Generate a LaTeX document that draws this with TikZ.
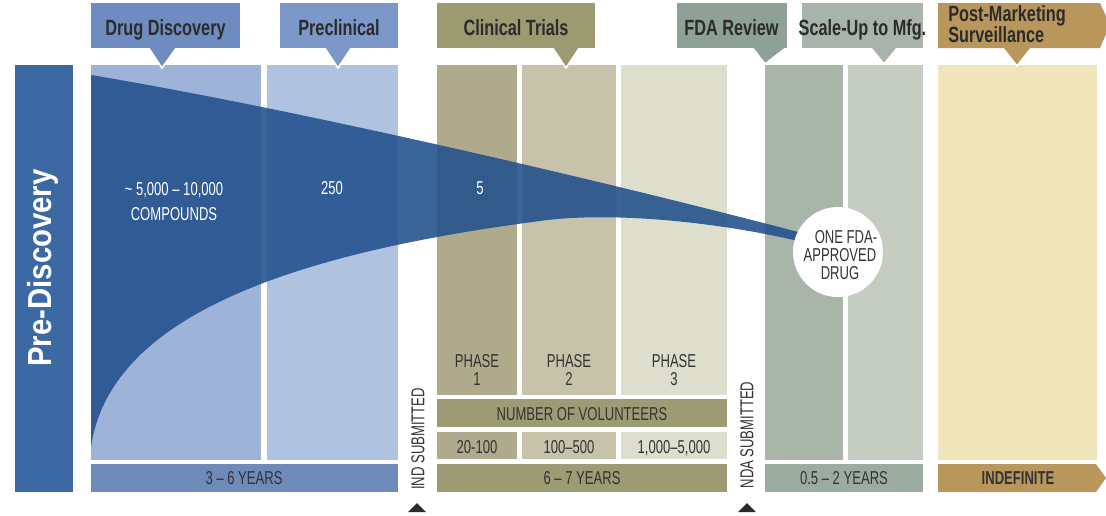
\documentclass[tikz,border=0pt]{standalone}
\usepackage{fontspec}
\setmainfont{Liberation Sans}
\newfontfamily\hdfont{Liberation Sans}[FakeStretch=0.74,Ligatures=TeX]
\newfontfamily\bdfont{Liberation Sans}[FakeStretch=0.7,Ligatures=TeX]
\newfontfamily\pdfont{Liberation Sans}[FakeStretch=0.88,Ligatures=TeX]
\definecolor{cPre}{HTML}{3C69A3}
\definecolor{cDDtab}{HTML}{6E8CBF}
\definecolor{cPCtab}{HTML}{7C98C8}
\definecolor{cDDcol}{HTML}{9DB3D7}
\definecolor{cPCcol}{HTML}{AFC3E1}
\definecolor{cDDbar}{HTML}{6D8AB8}
\definecolor{cCTtab}{HTML}{9C9A70}
\definecolor{cP1}{HTML}{AEAA8B}
\definecolor{cP2}{HTML}{C7C2AA}
\definecolor{cP3}{HTML}{DEDECD}
\definecolor{cOlive}{HTML}{9D9B73}
\definecolor{cFDAtab}{HTML}{8EA197}
\definecolor{cFDAcol}{HTML}{A8B5A8}
\definecolor{cSUtab}{HTML}{A8B3A9}
\definecolor{cSUcol}{HTML}{C5CDC3}
\definecolor{cFDAbar}{HTML}{9CAB9F}
\definecolor{cPMtab}{HTML}{B9975C}
\definecolor{cPMcol}{HTML}{F0E4BB}
\definecolor{cFunnel}{HTML}{214F8C}
\definecolor{txtdark}{HTML}{2B2B2B}
\definecolor{txtbody}{HTML}{333333}
\begin{document}
\begin{tikzpicture}[x=0.75pt,y=-0.75pt,
  hdr/.style={font=\hdfont\bfseries\fontsize{16.5}{19}\selectfont,text=txtdark,inner sep=0pt,anchor=base},
  body/.style={font=\bdfont\fontsize{14}{15}\selectfont,text=txtbody,inner sep=0pt,anchor=base},
  wbody/.style={body,text=white},
  vbody/.style={font=\bdfont\fontsize{14}{15}\selectfont,text=txtbody,inner sep=0pt,anchor=center,rotate=90},
  ptr/.style={draw=white,line width=1.2pt,line join=miter}]
\useasboundingbox (0,0) rectangle (1106,515);
\fill[white] (0,0) rectangle (1106,515);
% columns and bars
\fill[cPre] (15,65) rectangle (73,492);
\fill[cDDcol] (91,65) rectangle (261,460);
\fill[cPCcol] (267,65) rectangle (398,460);
\fill[cDDbar] (91,464) rectangle (398,492);
\fill[cP1] (437,65) rectangle (517,395);
\fill[cP2] (522,65) rectangle (616,395);
\fill[cP3] (621,65) rectangle (727,395);
\fill[cOlive] (437,399) rectangle (727,427);
\fill[cP1] (437,432) rectangle (517,459);
\fill[cP2] (522,432) rectangle (616,459);
\fill[cP3] (621,432) rectangle (727,459);
\fill[cOlive] (437,464) rectangle (727,492);
\fill[cFDAcol] (765,65) rectangle (843,460);
\fill[cSUcol] (848,65) rectangle (923,460);
\fill[cFDAbar] (765,464) rectangle (923,492);
\fill[cPMcol] (938,65) rectangle (1097,460);
\fill[cPMtab] (938,464) -- (1096,464) -- (1106,478) -- (1096,492) -- (938,492) -- cycle;
% funnel
\fill[cFunnel,opacity=0.88] (91,75) .. controls (300,110) and (600,180) .. (802,233)
  -- (802,242) .. controls (720,222) and (610,211) .. (540,221)
  .. controls (255,258) and (108,330) .. (91,447) -- cycle;
% header tabs
\filldraw[fill=cDDtab,ptr] (148,47) -- (162,68) -- (177,47) -- cycle;
\fill[cDDtab] (91,3) rectangle (240,48);
\filldraw[fill=cPCtab,ptr] (324,47) -- (338,68) -- (352,47) -- cycle;
\fill[cPCtab] (280,3) rectangle (398,48);
\filldraw[fill=cCTtab,ptr] (552,47) -- (566,68) -- (580,47) -- cycle;
\fill[cCTtab] (437,3) rectangle (595,48);
\filldraw[fill=cFDAtab,ptr] (752,47) -- (765,64) -- (787,47) -- cycle;
\fill[cFDAtab] (677,3) rectangle (787,48);
\filldraw[fill=cSUtab,ptr] (870,47) -- (884,64) -- (898,47) -- cycle;
\fill[cSUtab] (802,3) rectangle (923,48);
\filldraw[fill=cPMtab,ptr] (1002,47) -- (1017,66) -- (1032,47) -- cycle;
\fill[cPMtab] (938,3) -- (1100,3) -- (1110,25) -- (1100,48) -- (938,48) -- cycle;
% header texts
\node[hdr] (hDD) at (165.5,35) {Drug Discovery};
\node[hdr] (hPC) at (339,35) {Preclinical};
\node[hdr] (hCT) at (516,35) {Clinical Trials};
\node[hdr] (hFDA) at (731.5,35) {FDA Review};
\node[hdr] (hSU) at (862.5,35) {Scale-Up to Mfg.};
\node[hdr,anchor=base west] (hPM1) at (948,21) {Post-Marketing};
\node[hdr,anchor=base west] (hPM2) at (948,42.5) {Surveillance};
% pre-discovery
\node[font=\pdfont\bfseries\fontsize{25}{27}\selectfont,text=white,inner sep=0pt,anchor=base,rotate=90] (pre) at (51,268) {Pre-Discovery};
% funnel texts
\node[wbody] (cnt1) at (174,195) {\textasciitilde\ 5,000 -- 10,000};
\node[wbody] (cnt1b) at (174,220) {COMPOUNDS};
\node[wbody] (cnt2) at (332,194) {250};
\node[wbody] (cnt3) at (480,194) {5};
% phases
\node[body] (ph1) at (477,367) {PHASE};
\node[body] (ph1n) at (477,385) {1};
\node[body] (ph2) at (569,367) {PHASE};
\node[body] (ph2n) at (569,385) {2};
\node[body] (ph3) at (674,367) {PHASE};
\node[body] (ph3n) at (674,385) {3};
\node[body] (vol) at (582,420) {NUMBER OF VOLUNTEERS};
\node[body] (v1) at (477,453) {20-100};
\node[body] (v2) at (569,453) {100--500};
\node[body] (v3) at (674,453) {1,000--5,000};
% years
\node[body] (y1) at (244,484) {3 -- 6 YEARS};
\node[body] (y2) at (582,484) {6 -- 7 YEARS};
\node[body] (y3) at (844,484) {0.5 -- 2 YEARS};
\node[body,font=\bdfont\bfseries\fontsize{14}{15}\selectfont] (y4) at (1018,484) {INDEFINITE};
% submissions
\node[vbody] (ind) at (418,439) {IND SUBMITTED};
\node[vbody] (nda) at (747,435) {NDA SUBMITTED};
\fill[txtdark] (417,503) -- (426,512) -- (408,512) -- cycle;
\fill[txtdark] (747,503) -- (756,512) -- (738,512) -- cycle;
% approved drug circle
\fill[white] (838,252) circle (45);
\node[body] (c1) at (846,243) {ONE FDA-};
\node[body] (c2) at (840,261) {APPROVED};
\node[body] (c3) at (840,279) {DRUG};
\end{tikzpicture}
\end{document}
